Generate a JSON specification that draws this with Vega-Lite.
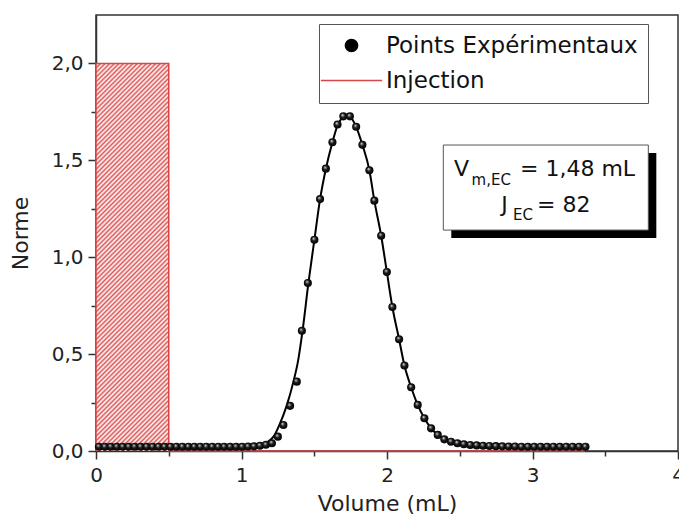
{
  "$schema": "https://vega.github.io/schema/vega-lite/v6.json",
  "width": 582,
  "height": 436,
  "autosize": "none",
  "padding": {"left": 96, "top": 15, "right": 1, "bottom": 79},
  "background": "white",
  "datasets": {
    "pts": [
      {"x":0.020,"y":0.022},{"x":0.061,"y":0.022},{"x":0.102,"y":0.022},{"x":0.143,"y":0.022},{"x":0.184,"y":0.022},{"x":0.225,"y":0.022},{"x":0.266,"y":0.022},{"x":0.307,"y":0.022},{"x":0.348,"y":0.022},{"x":0.389,"y":0.022},{"x":0.430,"y":0.022},{"x":0.471,"y":0.022},{"x":0.512,"y":0.022},{"x":0.553,"y":0.022},{"x":0.594,"y":0.022},{"x":0.635,"y":0.022},{"x":0.676,"y":0.022},{"x":0.717,"y":0.022},{"x":0.758,"y":0.022},{"x":0.799,"y":0.022},{"x":0.840,"y":0.022},{"x":0.881,"y":0.022},{"x":0.922,"y":0.022},{"x":0.963,"y":0.022},{"x":1.004,"y":0.022},{"x":1.045,"y":0.023},{"x":1.086,"y":0.024},{"x":1.127,"y":0.027},{"x":1.168,"y":0.032},
      {"x":1.209,"y":0.040},{"x":1.250,"y":0.074},{"x":1.288,"y":0.134},{"x":1.334,"y":0.233},{"x":1.380,"y":0.358},{"x":1.415,"y":0.620},{"x":1.456,"y":0.867},{"x":1.501,"y":1.090},{"x":1.540,"y":1.300},{"x":1.580,"y":1.457},{"x":1.625,"y":1.593},{"x":1.660,"y":1.685},{"x":1.700,"y":1.727},{"x":1.745,"y":1.727},{"x":1.788,"y":1.673},{"x":1.831,"y":1.580},{"x":1.879,"y":1.449},{"x":1.913,"y":1.292},{"x":1.960,"y":1.111},{"x":1.999,"y":0.924},{"x":2.037,"y":0.743},{"x":2.083,"y":0.577},{"x":2.120,"y":0.441},{"x":2.166,"y":0.329},{"x":2.211,"y":0.238},{"x":2.257,"y":0.169},{"x":2.303,"y":0.117},{"x":2.349,"y":0.083},{"x":2.394,"y":0.060},{"x":2.440,"y":0.048},
      {"x":2.484,"y":0.040},{"x":2.528,"y":0.035},{"x":2.572,"y":0.031},{"x":2.616,"y":0.029},{"x":2.660,"y":0.027},{"x":2.704,"y":0.026},{"x":2.748,"y":0.025},{"x":2.792,"y":0.024},{"x":2.836,"y":0.023},{"x":2.880,"y":0.023},{"x":2.924,"y":0.022},{"x":2.968,"y":0.022},{"x":3.012,"y":0.022},{"x":3.056,"y":0.022},{"x":3.100,"y":0.022},{"x":3.144,"y":0.022},{"x":3.188,"y":0.022},{"x":3.232,"y":0.022},{"x":3.276,"y":0.022},{"x":3.320,"y":0.022},{"x":3.364,"y":0.022}
    ],
    "fit": [
      {"x":0.0,"y":0.015},{"x":0.9,"y":0.015},{"x":1.0,"y":0.017},{"x":1.06,"y":0.02},{"x":1.10,"y":0.025},{"x":1.14,"y":0.032},{"x":1.18,"y":0.047},{"x":1.22,"y":0.074},{"x":1.26,"y":0.134},{"x":1.31,"y":0.233},{"x":1.357,"y":0.358},{"x":1.39,"y":0.47},{"x":1.419,"y":0.617},{"x":1.46,"y":0.867},{"x":1.501,"y":1.09},{"x":1.54,"y":1.30},{"x":1.58,"y":1.457},{"x":1.625,"y":1.593},{"x":1.66,"y":1.68},{"x":1.70,"y":1.725},{"x":1.725,"y":1.735},{"x":1.745,"y":1.728},{"x":1.788,"y":1.673},{"x":1.831,"y":1.58},{"x":1.879,"y":1.449},{"x":1.913,"y":1.292},{"x":1.96,"y":1.111},{"x":1.999,"y":0.924},{"x":2.037,"y":0.743},{"x":2.083,"y":0.577},{"x":2.12,"y":0.441},{"x":2.166,"y":0.329},{"x":2.211,"y":0.238},{"x":2.257,"y":0.169},{"x":2.303,"y":0.117},{"x":2.349,"y":0.083},{"x":2.394,"y":0.06},{"x":2.44,"y":0.045},{"x":2.50,"y":0.033},{"x":2.60,"y":0.022},{"x":2.70,"y":0.017},{"x":2.80,"y":0.015},{"x":3.36,"y":0.015}
    ],
    "inj": [
      {"x":0,"y":0,"o":1},{"x":0,"y":2,"o":2},{"x":0.5,"y":2,"o":3},{"x":0.5,"y":0,"o":4},{"x":3.36,"y":0,"o":5}
    ],
    "injfill": [
      {"x":0,"y":2},{"x":0.5,"y":2}
    ],
    "leg": [
      {"x":0,"y":0,"serie":"Points Expérimentaux"},{"x":0,"y":0,"serie":"Injection"}
    ],
    "one": [{"n": 1}]
  },
  "layer": [
    {
      "data": {"name": "injfill"},
      "mark": {"type": "area", "opacity": 1,
        "fill": {"gradient": "linear", "x1": 0, "y1": 0, "x2": 0.21533, "y2": 1.14726, "stops": [
          {"offset":0,"color":"#d55"},{"offset":0.005,"color":"#fff"},{"offset":0.01,"color":"#d55"},{"offset":0.015,"color":"#fff"},{"offset":0.02,"color":"#d55"},{"offset":0.025,"color":"#fff"},{"offset":0.03,"color":"#d55"},{"offset":0.035,"color":"#fff"},{"offset":0.04,"color":"#d55"},{"offset":0.045,"color":"#fff"},
          {"offset":0.05,"color":"#d55"},{"offset":0.055,"color":"#fff"},{"offset":0.06,"color":"#d55"},{"offset":0.065,"color":"#fff"},{"offset":0.07,"color":"#d55"},{"offset":0.075,"color":"#fff"},{"offset":0.08,"color":"#d55"},{"offset":0.085,"color":"#fff"},{"offset":0.09,"color":"#d55"},{"offset":0.095,"color":"#fff"},
          {"offset":0.1,"color":"#d55"},{"offset":0.105,"color":"#fff"},{"offset":0.11,"color":"#d55"},{"offset":0.115,"color":"#fff"},{"offset":0.12,"color":"#d55"},{"offset":0.125,"color":"#fff"},{"offset":0.13,"color":"#d55"},{"offset":0.135,"color":"#fff"},{"offset":0.14,"color":"#d55"},{"offset":0.145,"color":"#fff"},
          {"offset":0.15,"color":"#d55"},{"offset":0.155,"color":"#fff"},{"offset":0.16,"color":"#d55"},{"offset":0.165,"color":"#fff"},{"offset":0.17,"color":"#d55"},{"offset":0.175,"color":"#fff"},{"offset":0.18,"color":"#d55"},{"offset":0.185,"color":"#fff"},{"offset":0.19,"color":"#d55"},{"offset":0.195,"color":"#fff"},
          {"offset":0.2,"color":"#d55"},{"offset":0.205,"color":"#fff"},{"offset":0.21,"color":"#d55"},{"offset":0.215,"color":"#fff"},{"offset":0.22,"color":"#d55"},{"offset":0.225,"color":"#fff"},{"offset":0.23,"color":"#d55"},{"offset":0.235,"color":"#fff"},{"offset":0.24,"color":"#d55"},{"offset":0.245,"color":"#fff"},
          {"offset":0.25,"color":"#d55"},{"offset":0.255,"color":"#fff"},{"offset":0.26,"color":"#d55"},{"offset":0.265,"color":"#fff"},{"offset":0.27,"color":"#d55"},{"offset":0.275,"color":"#fff"},{"offset":0.28,"color":"#d55"},{"offset":0.285,"color":"#fff"},{"offset":0.29,"color":"#d55"},{"offset":0.295,"color":"#fff"},
          {"offset":0.3,"color":"#d55"},{"offset":0.305,"color":"#fff"},{"offset":0.31,"color":"#d55"},{"offset":0.315,"color":"#fff"},{"offset":0.32,"color":"#d55"},{"offset":0.325,"color":"#fff"},{"offset":0.33,"color":"#d55"},{"offset":0.335,"color":"#fff"},{"offset":0.34,"color":"#d55"},{"offset":0.345,"color":"#fff"},
          {"offset":0.35,"color":"#d55"},{"offset":0.355,"color":"#fff"},{"offset":0.36,"color":"#d55"},{"offset":0.365,"color":"#fff"},{"offset":0.37,"color":"#d55"},{"offset":0.375,"color":"#fff"},{"offset":0.38,"color":"#d55"},{"offset":0.385,"color":"#fff"},{"offset":0.39,"color":"#d55"},{"offset":0.395,"color":"#fff"},
          {"offset":0.4,"color":"#d55"},{"offset":0.405,"color":"#fff"},{"offset":0.41,"color":"#d55"},{"offset":0.415,"color":"#fff"},{"offset":0.42,"color":"#d55"},{"offset":0.425,"color":"#fff"},{"offset":0.43,"color":"#d55"},{"offset":0.435,"color":"#fff"},{"offset":0.44,"color":"#d55"},{"offset":0.445,"color":"#fff"},
          {"offset":0.45,"color":"#d55"},{"offset":0.455,"color":"#fff"},{"offset":0.46,"color":"#d55"},{"offset":0.465,"color":"#fff"},{"offset":0.47,"color":"#d55"},{"offset":0.475,"color":"#fff"},{"offset":0.48,"color":"#d55"},{"offset":0.485,"color":"#fff"},{"offset":0.49,"color":"#d55"},{"offset":0.495,"color":"#fff"},
          {"offset":0.5,"color":"#d55"},{"offset":0.505,"color":"#fff"},{"offset":0.51,"color":"#d55"},{"offset":0.515,"color":"#fff"},{"offset":0.52,"color":"#d55"},{"offset":0.525,"color":"#fff"},{"offset":0.53,"color":"#d55"},{"offset":0.535,"color":"#fff"},{"offset":0.54,"color":"#d55"},{"offset":0.545,"color":"#fff"},
          {"offset":0.55,"color":"#d55"},{"offset":0.555,"color":"#fff"},{"offset":0.56,"color":"#d55"},{"offset":0.565,"color":"#fff"},{"offset":0.57,"color":"#d55"},{"offset":0.575,"color":"#fff"},{"offset":0.58,"color":"#d55"},{"offset":0.585,"color":"#fff"},{"offset":0.59,"color":"#d55"},{"offset":0.595,"color":"#fff"},
          {"offset":0.6,"color":"#d55"},{"offset":0.605,"color":"#fff"},{"offset":0.61,"color":"#d55"},{"offset":0.615,"color":"#fff"},{"offset":0.62,"color":"#d55"},{"offset":0.625,"color":"#fff"},{"offset":0.63,"color":"#d55"},{"offset":0.635,"color":"#fff"},{"offset":0.64,"color":"#d55"},{"offset":0.645,"color":"#fff"},
          {"offset":0.65,"color":"#d55"},{"offset":0.655,"color":"#fff"},{"offset":0.66,"color":"#d55"},{"offset":0.665,"color":"#fff"},{"offset":0.67,"color":"#d55"},{"offset":0.675,"color":"#fff"},{"offset":0.68,"color":"#d55"},{"offset":0.685,"color":"#fff"},{"offset":0.69,"color":"#d55"},{"offset":0.695,"color":"#fff"},
          {"offset":0.7,"color":"#d55"},{"offset":0.705,"color":"#fff"},{"offset":0.71,"color":"#d55"},{"offset":0.715,"color":"#fff"},{"offset":0.72,"color":"#d55"},{"offset":0.725,"color":"#fff"},{"offset":0.73,"color":"#d55"},{"offset":0.735,"color":"#fff"},{"offset":0.74,"color":"#d55"},{"offset":0.745,"color":"#fff"},
          {"offset":0.75,"color":"#d55"},{"offset":0.755,"color":"#fff"},{"offset":0.76,"color":"#d55"},{"offset":0.765,"color":"#fff"},{"offset":0.77,"color":"#d55"},{"offset":0.775,"color":"#fff"},{"offset":0.78,"color":"#d55"},{"offset":0.785,"color":"#fff"},{"offset":0.79,"color":"#d55"},{"offset":0.795,"color":"#fff"},
          {"offset":0.8,"color":"#d55"},{"offset":0.805,"color":"#fff"},{"offset":0.81,"color":"#d55"},{"offset":0.815,"color":"#fff"},{"offset":0.82,"color":"#d55"},{"offset":0.825,"color":"#fff"},{"offset":0.83,"color":"#d55"},{"offset":0.835,"color":"#fff"},{"offset":0.84,"color":"#d55"},{"offset":0.845,"color":"#fff"},
          {"offset":0.85,"color":"#d55"},{"offset":0.855,"color":"#fff"},{"offset":0.86,"color":"#d55"},{"offset":0.865,"color":"#fff"},{"offset":0.87,"color":"#d55"},{"offset":0.875,"color":"#fff"},{"offset":0.88,"color":"#d55"},{"offset":0.885,"color":"#fff"},{"offset":0.89,"color":"#d55"},{"offset":0.895,"color":"#fff"},
          {"offset":0.9,"color":"#d55"},{"offset":0.905,"color":"#fff"},{"offset":0.91,"color":"#d55"},{"offset":0.915,"color":"#fff"},{"offset":0.92,"color":"#d55"},{"offset":0.925,"color":"#fff"},{"offset":0.93,"color":"#d55"},{"offset":0.935,"color":"#fff"},{"offset":0.94,"color":"#d55"},{"offset":0.945,"color":"#fff"},
          {"offset":0.95,"color":"#d55"},{"offset":0.955,"color":"#fff"},{"offset":0.96,"color":"#d55"},{"offset":0.965,"color":"#fff"},{"offset":0.97,"color":"#d55"},{"offset":0.975,"color":"#fff"},{"offset":0.98,"color":"#d55"},{"offset":0.985,"color":"#fff"},{"offset":0.99,"color":"#d55"},{"offset":0.995,"color":"#fff"},
          {"offset":1,"color":"#d55"}
        ]}},
      "encoding": {
        "x": {
          "field": "x", "type": "quantitative",
          "scale": {"domain": [0, 4], "nice": false, "zero": false},
          "axis": {
            "title": "Volume (mL)",
            "values": [0, 0.5, 1, 1.5, 2, 2.5, 3, 3.5, 4],
            "labelExpr": "datum.value % 1 == 0 ? format(datum.value, 'd') : ''",
            "tickSize": {"condition": {"test": "datum.value % 1 != 0", "value": 5}, "value": 8},
            "tickWidth": 1.5, "tickColor": "#333",
            "domainColor": "#333", "domainWidth": 1.5,
            "labelFontSize": 20, "labelColor": "#222", "labelPadding": 6, "labelFont": "DejaVu Sans",
            "labelFlush": false, "labelOverlap": false,
            "titleFontSize": 22, "titleFontWeight": "normal", "titleColor": "#222", "titlePadding": 8, "titleFont": "DejaVu Sans",
            "grid": false, "zindex": 0
          }
        },
        "y": {
          "field": "y", "type": "quantitative",
          "scale": {"domain": [0, 2.25], "nice": false, "zero": false},
          "axis": {
            "title": "Norme",
            "values": [0, 0.25, 0.5, 0.75, 1, 1.25, 1.5, 1.75, 2],
            "labelExpr": "(datum.value * 2) % 1 == 0 ? replace(format(datum.value, '.1f'), '.', ',') : ''",
            "tickSize": {"condition": {"test": "(datum.value * 2) % 1 != 0", "value": 5}, "value": 8},
            "tickWidth": 1.5, "tickColor": "#333",
            "domainColor": "#333", "domainWidth": 1.5,
            "labelFontSize": 20, "labelColor": "#222", "labelPadding": 5, "labelFont": "DejaVu Sans",
            "labelOverlap": false, "labelFlush": false,
            "titleFontSize": 22, "titleFontWeight": "normal", "titleColor": "#222", "titlePadding": 19, "titleFont": "DejaVu Sans",
            "grid": false, "zindex": 0
          }
        }
      }
    },
    {
      "data": {"name": "inj"},
      "mark": {"type": "line", "strokeWidth": 1.5, "color": "#d94545"},
      "encoding": {
        "x": {"field": "x", "type": "quantitative", "scale": {"domain": [0, 4], "nice": false, "zero": false}},
        "y": {"field": "y", "type": "quantitative", "scale": {"domain": [0, 2.25], "nice": false, "zero": false}},
        "order": {"field": "o", "type": "quantitative"}
      }
    },
    {
      "data": {"name": "fit"},
      "mark": {"type": "line", "color": "black", "strokeWidth": 2, "interpolate": "monotone"},
      "encoding": {
        "x": {"field": "x", "type": "quantitative", "scale": {"domain": [0, 4], "nice": false, "zero": false}},
        "y": {"field": "y", "type": "quantitative", "scale": {"domain": [0, 2.25], "nice": false, "zero": false}}
      }
    },
    {
      "data": {"name": "leg"},
      "transform": [{"filter": "datum.x > 10"}],
      "mark": {"type": "point", "filled": true, "opacity": 1},
      "encoding": {
        "x": {"field": "x", "type": "quantitative", "scale": {"domain": [0, 4], "nice": false, "zero": false}},
        "y": {"field": "y", "type": "quantitative", "scale": {"domain": [0, 2.25], "nice": false, "zero": false}},
        "fill": {
          "field": "serie", "type": "nominal",
          "scale": {"domain": ["Points Expérimentaux", "Injection"], "range": ["black", "#d94545"]},
          "legend": {
            "orient": "none", "legendX": 223, "legendY": 9,
            "title": null, "direction": "vertical",
            "padding": 10, "strokeColor": "#555", "fillColor": "white",
            "labelFont": "DejaVu Sans", "labelFontSize": 23, "labelColor": "#111", "labelLimit": 600,
            "symbolSize": 150, "symbolOffset": 11, "labelOffset": 23, "rowPadding": 11,
            "symbolOpacity": 1, "symbolStrokeWidth": 1.5
          }
        },
        "stroke": {
          "field": "serie", "type": "nominal",
          "scale": {"domain": ["Points Expérimentaux", "Injection"], "range": ["black", "#d94545"]},
          "legend": {
            "orient": "none", "legendX": 223, "legendY": 9,
            "title": null, "direction": "vertical",
            "padding": 10, "strokeColor": "#555", "fillColor": "white",
            "labelFont": "DejaVu Sans", "labelFontSize": 23, "labelColor": "#111", "labelLimit": 600,
            "symbolSize": 150, "symbolOffset": 11, "labelOffset": 23, "rowPadding": 11,
            "symbolOpacity": 1, "symbolStrokeWidth": 1.5
          }
        },
        "shape": {
          "field": "serie", "type": "nominal",
          "scale": {"domain": ["Points Expérimentaux", "Injection"], "range": ["circle", "M-5,0H5"]},
          "legend": {
            "orient": "none", "legendX": 223, "legendY": 9,
            "title": null, "direction": "vertical",
            "padding": 10, "strokeColor": "#555", "fillColor": "white",
            "labelFont": "DejaVu Sans", "labelFontSize": 23, "labelColor": "#111", "labelLimit": 600,
            "symbolSize": 150, "symbolOffset": 11, "labelOffset": 23, "rowPadding": 11,
            "symbolOpacity": 1, "symbolStrokeWidth": 1.5
          }
        }
      }
    },
    {
      "data": {"name": "pts"},
      "mark": {"type": "point", "size": 66, "opacity": 1, "strokeWidth": 0,
        "fill": {"gradient": "radial", "x1": 0.38, "y1": 0.32, "r1": 0, "x2": 0.5, "y2": 0.5, "r2": 0.55, "stops": [{"offset": 0, "color": "#ffffff"}, {"offset": 0.16, "color": "#999999"}, {"offset": 0.45, "color": "#1a1a1a"}, {"offset": 1, "color": "#000000"}]}},
      "encoding": {
        "x": {"field": "x", "type": "quantitative", "scale": {"domain": [0, 4], "nice": false, "zero": false}},
        "y": {"field": "y", "type": "quantitative", "scale": {"domain": [0, 2.25], "nice": false, "zero": false}}
      }
    },
    {
      "data": {"name": "one"},
      "mark": {"type": "rect", "fill": "black", "xOffset": 8, "yOffset": 8, "x2Offset": 8, "y2Offset": 8},
      "encoding": {
        "x": {"datum": 2.387, "type": "quantitative"},
        "x2": {"datum": 3.796},
        "y": {"datum": 1.579, "type": "quantitative"},
        "y2": {"datum": 1.140}
      }
    },
    {
      "data": {"name": "one"},
      "mark": {"type": "rect", "fill": "white", "stroke": "#555", "strokeWidth": 1},
      "encoding": {
        "x": {"datum": 2.387, "type": "quantitative"},
        "x2": {"datum": 3.796},
        "y": {"datum": 1.579, "type": "quantitative"},
        "y2": {"datum": 1.140}
      }
    },
    {
      "data": {"name": "one"},
      "mark": {"type": "text", "text": "V", "font": "DejaVu Sans", "fontSize": 22, "align": "left", "baseline": "alphabetic", "color": "#111"},
      "encoding": {"x": {"datum": 2.460, "type": "quantitative"}, "y": {"datum": 1.419, "type": "quantitative"}}
    },
    {
      "data": {"name": "one"},
      "mark": {"type": "text", "text": "m,EC", "font": "DejaVu Sans", "fontSize": 15, "align": "left", "baseline": "alphabetic", "color": "#111"},
      "encoding": {"x": {"datum": 2.581, "type": "quantitative"}, "y": {"datum": 1.373, "type": "quantitative"}}
    },
    {
      "data": {"name": "one"},
      "mark": {"type": "text", "text": "= 1,48 mL", "font": "DejaVu Sans", "fontSize": 22, "align": "left", "baseline": "alphabetic", "color": "#111"},
      "encoding": {"x": {"datum": 2.914, "type": "quantitative"}, "y": {"datum": 1.419, "type": "quantitative"}}
    },
    {
      "data": {"name": "one"},
      "mark": {"type": "text", "text": "J", "font": "DejaVu Sans", "fontSize": 22, "align": "left", "baseline": "alphabetic", "color": "#111"},
      "encoding": {"x": {"datum": 2.785, "type": "quantitative"}, "y": {"datum": 1.235, "type": "quantitative"}}
    },
    {
      "data": {"name": "one"},
      "mark": {"type": "text", "text": "EC", "font": "DejaVu Sans", "fontSize": 15, "align": "left", "baseline": "alphabetic", "color": "#111"},
      "encoding": {"x": {"datum": 2.866, "type": "quantitative"}, "y": {"datum": 1.192, "type": "quantitative"}}
    },
    {
      "data": {"name": "one"},
      "mark": {"type": "text", "text": "= 82", "font": "DejaVu Sans", "fontSize": 22, "align": "left", "baseline": "alphabetic", "color": "#111"},
      "encoding": {"x": {"datum": 3.031, "type": "quantitative"}, "y": {"datum": 1.235, "type": "quantitative"}}
    }
  ],
  "config": {
    "view": {"stroke": "#333", "strokeWidth": 1.5},
    "font": "DejaVu Sans"
  }
}
